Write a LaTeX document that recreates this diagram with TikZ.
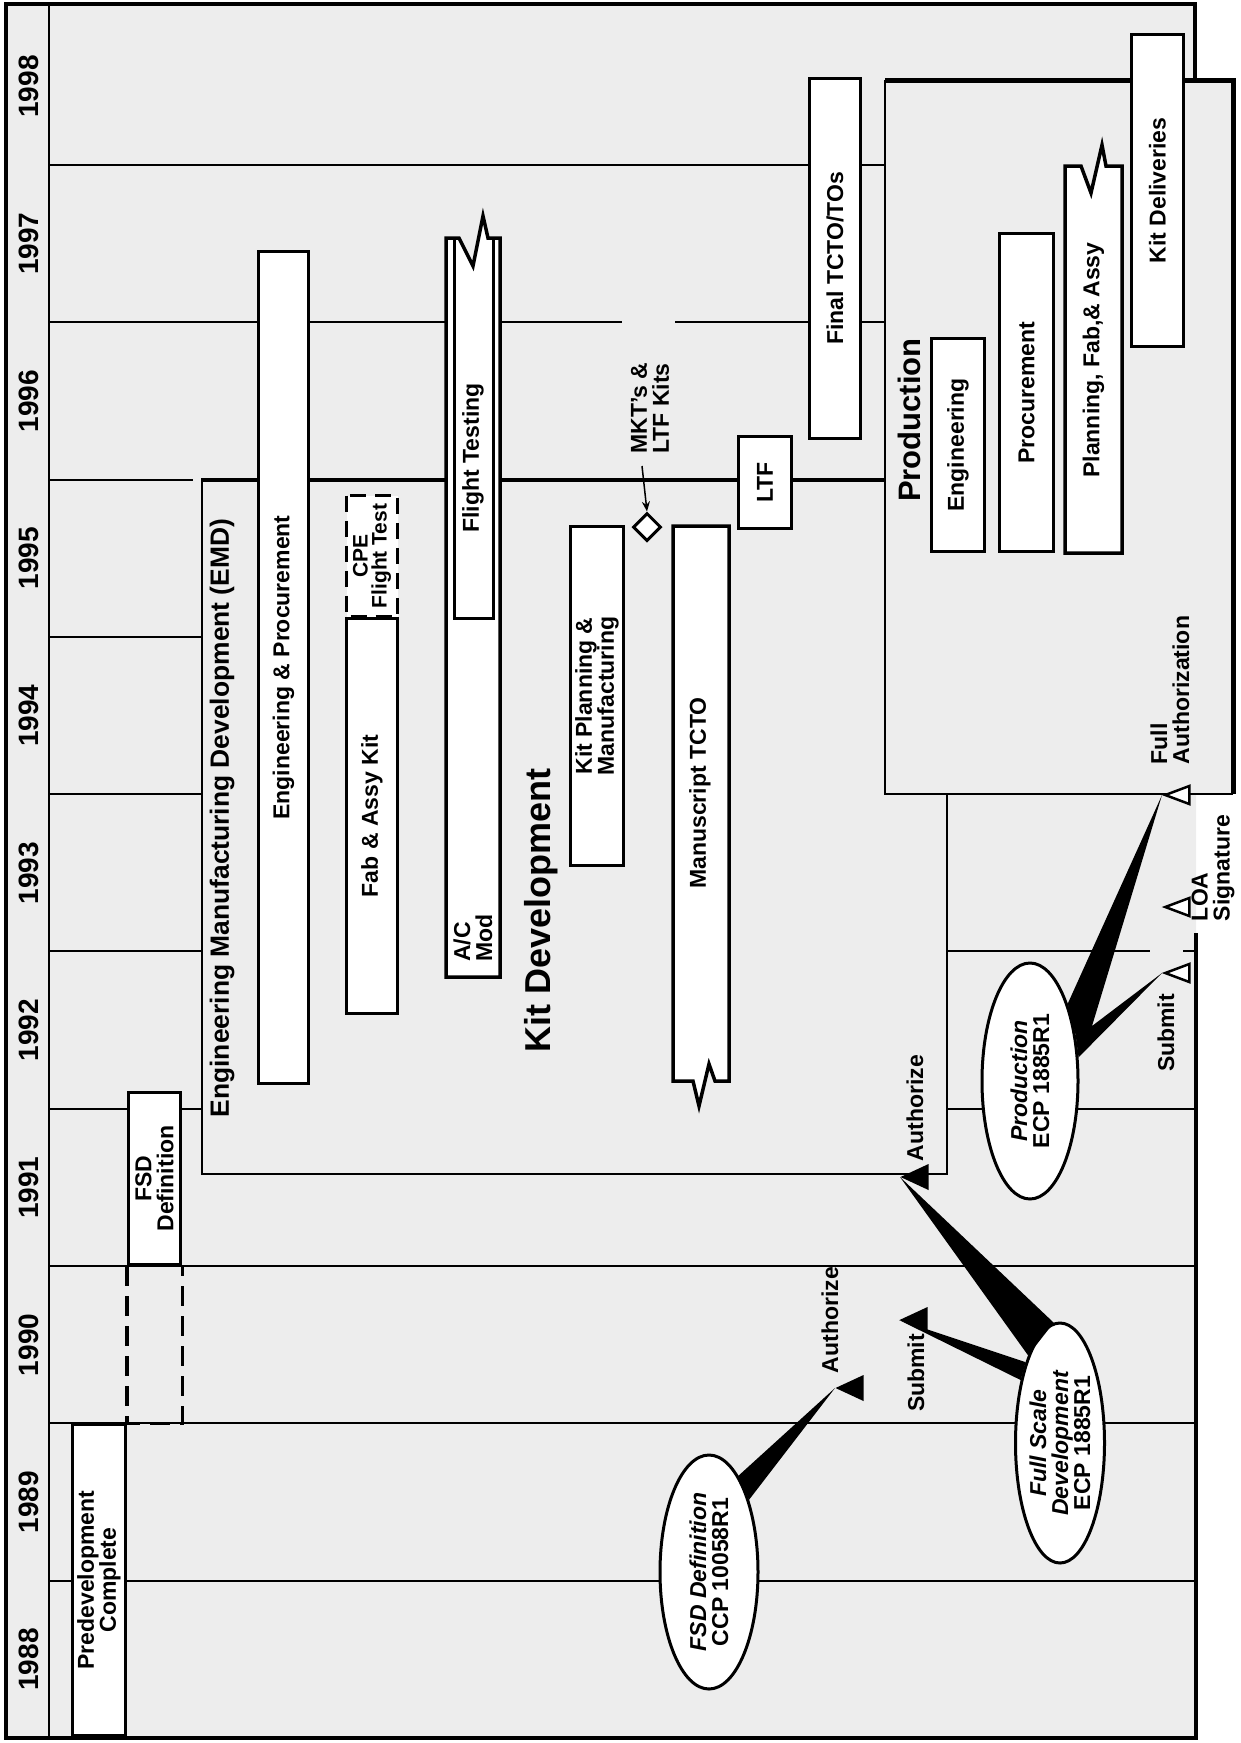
\documentclass[tikz,border=0pt]{standalone}
\usepackage{fontspec}
\setmainfont{Liberation Sans}
\usetikzlibrary{arrows.meta,shapes.geometric,calc}

\newcommand{\lblfont}{\fontsize{23}{22}\selectfont\bfseries}
\newcommand{\cpefont}{\fontsize{21}{19}\selectfont\bfseries}
\newcommand{\yearfont}{\fontsize{28}{28}\selectfont\bfseries}
\newcommand{\emdfont}{\fontsize{26.4}{26}\selectfont\bfseries}
\newcommand{\kitfont}{\fontsize{36}{36}\selectfont\bfseries}
\newcommand{\prodfont}{\fontsize{31}{31}\selectfont\bfseries}

\begin{document}
\begin{tikzpicture}[x=1pt, y=-1pt,
  taskbar/.style={draw, fill=white, line width=3.5pt, rotate=90, inner sep=0pt, align=center, font=\lblfont},
  dashbar/.style={taskbar, dash pattern=on 16pt off 9pt, font=\cpefont},
  taskline/.style={draw, fill=white, line width=3.5pt},
  txt/.style={rotate=90, inner sep=0pt, align=center, font=\lblfont},
  yeartxt/.style={txt, font=\yearfont},
  ecp/.style={ellipse, draw, fill=white, line width=3pt, rotate=90, inner sep=0pt, align=center, font=\lblfont},
  milestone/.style={isosceles triangle, isosceles triangle stretches, rotate=180, minimum width=26pt, minimum height=28pt, inner sep=0pt, fill=black},
  openmilestone/.style={milestone, fill=white, draw, line width=2.5pt, minimum width=18pt, minimum height=24pt},
  yearline/.style={line width=1.5pt},
  chartframe/.style={line width=4pt},
  pointer/.style={fill=black}
]
\useasboundingbox (0,0) rectangle (1240,1743);
\fill[black!7] (6,4) -- (1195,4) -- (1195,80) -- (1233,80) -- (1233,794) -- (1196,794) -- (1196,1738) -- (6,1738) -- cycle;

% year grid
\draw[yearline] (49,165) -- (885,165);
\draw[yearline] (49,322) -- (622,322) (675,322) -- (885,322);
\draw[yearline] (49,480) -- (193,480);
\foreach \yy in {637,794,951} \draw[yearline] (49,\yy) -- (202,\yy);
\draw[yearline] (947,951) -- (1150,951) (1183,951) -- (1196,951);
\draw[yearline] (49,1109) -- (202,1109) (947,1109) -- (1196,1109);
\foreach \yy in {1266,1423,1581} \draw[yearline] (49,\yy) -- (1196,\yy);
\foreach \yr [count=\i from 0] in {1998,1997,...,1988}
  \node[yeartxt] (y\yr) at (29,{86.5+157.3*\i}) {\yr};

% frame
\draw[chartframe] (1195,80) -- (1195,4) -- (6,4) -- (6,1738) -- (1196,1738) -- (1196,933);
\draw[line width=2pt] (49,4) -- (49,1738);

% EMD and production outlines
\draw[line width=3.5pt] (202,480) -- (885,480);
\draw[line width=2.5pt] (202,478) -- (202,1174) -- (947,1174) -- (947,794);
\draw[line width=2.5pt] (1233,794) -- (885,794) -- (885,80);
\draw[line width=5pt] (885,80) -- (1233,80) -- (1233,794);

% early phases
\node[taskbar, minimum width=312pt, minimum height=53pt] (predev) at (99,1580) {Predevelopment\\Complete};
\node[taskbar, minimum width=172pt, minimum height=52pt] (fsddef) at (154.5,1178.5) {FSD\\Definition};
\draw[line width=3.5pt, dash pattern=on 20pt off 10pt] (fsddef.north west) -- ++(0,157) -| (fsddef.south west);

% EMD
\node[txt, font=\emdfont] (emd) at (222,818) {Engineering Manufacturing Development (EMD)};
\node[taskbar, minimum width=832pt, minimum height=50pt] (engproc) at (283.5,667.5) {Engineering \& Procurement};
\node[taskbar, minimum width=395pt, minimum height=51pt] (fabkit) at (372,816) {Fab \& Assy Kit};
\node[dashbar, minimum width=121pt, minimum height=51pt] (cpe) at (372,556) {CPE\\Flight Test};
\path[taskline] (446,977) -- (446,238) -- (459,238) -- (473,266) -- (483,216) -- (488,238) -- (500,238) -- (500,977) -- cycle;
\draw[line width=3pt] (454,238) -- (454,618) -- (493,618) -- (493,238);
\node[txt] (flttest) at (473,458) {Flight Testing};
\node[txt, align=left] (acmod) at (473,938) {A/C\\Mod};

% kit development
\node[txt, font=\kitfont] (kitdev) at (541,910) {Kit Development};
\node[taskbar, minimum width=339pt, minimum height=53pt] (kitplan) at (597,696) {Kit Planning \&\\Manufacturing};
\node[diamond, draw, fill=white, line width=3pt, minimum size=28pt, inner sep=0pt] (mktdia) at (647,527) {};
\node[txt, align=left] (mktkits) at (650,408) {MKT's \&\\LTF Kits};
\coordinate (mkttail) at (642,466);
\draw[-{Stealth[length=10pt,width=8pt]}, line width=1.5pt] (mkttail) -- (mktdia.north);
\path[taskline] (673,526) -- (729,526) -- (729,1081) -- (715,1081) -- (709,1064) -- (699,1106) -- (693,1081) -- (673,1081) -- cycle;
\node[txt] (manus) at (700,793) {Manuscript TCTO};
\node[taskbar, minimum width=92pt, minimum height=53pt] (ltf) at (765,482.5) {LTF};
\node[taskbar, minimum width=360pt, minimum height=51pt] (finaltcto) at (835,258.5) {Final TCTO/TOs};

% production
\node[txt, font=\prodfont] (prodhead) at (909,420) {Production};
\node[taskbar, minimum width=213pt, minimum height=53pt] (proding) at (958,445) {Engineering};
\node[taskbar, minimum width=318pt, minimum height=54pt] (prodproc) at (1026.5,392.5) {Procurement};
\path[taskline] (1065,553) -- (1065,166) -- (1081,166) -- (1091,193) -- (1102,145) -- (1106,166) -- (1122,166) -- (1122,553) -- cycle;
\node[txt] (planfab) at (1093.5,360) {Planning, Fab,\& Assy};
\node[taskbar, minimum width=312pt, minimum height=52pt] (kitdel) at (1157.5,190.5) {Kit Deliveries};

% change proposals
\node[ecp, minimum width=234pt, minimum height=98pt] (fsdecp) at (709,1572) {\textit{FSD Definition}\\CCP 10058R1};
\node[ecp, minimum width=240pt, minimum height=89pt] (fsdev) at (1060,1443) {\textit{Full Scale}\\\textit{Development}\\ECP 1885R1};
\node[ecp, minimum width=236pt, minimum height=96pt] (prodecp) at (1030,1081) {\textit{Production}\\ECP 1885R1};

% milestones
\node[milestone, anchor=apex] (auth1) at (835,1388) {};
\node[milestone, anchor=apex] (submit1) at (899,1320) {};
\node[milestone, anchor=apex] (auth2) at (900,1177) {};
\node[openmilestone, anchor=apex] (fullauth) at (1162,795) {};
\node[openmilestone, anchor=apex] (loasig) at (1162,907) {};
\node[openmilestone, anchor=apex] (submit2) at (1162,973) {};
\node[txt] (authlbl1) at (830,1320) {Authorize};
\node[txt] (submitlbl1) at (916,1373) {Submit};
\node[txt] (authlbl2) at (915,1108) {Authorize};
\node[txt] (submitlbl2) at (1166,1033) {Submit};
\node[txt, align=left] (fullauthlbl) at (1170,690) {Full\\Authorization};
\node[txt, align=left] (loalbl) at (1213,868) {LOA\\Signature};

% pointers
\fill[pointer] (fsdecp.-17) -- (auth1.apex) -- (fsdecp.-29) -- cycle;
\fill[pointer] (fsdev.3) -- (auth2.apex) -- (fsdev.20) -- cycle;
\fill[pointer] (fsdev.23) -- (submit1.apex) -- (fsdev.32) -- cycle;
\coordinate (prodnotch) at (1092,1026);
\fill[pointer] (prodecp.-26) -- (fullauth.apex) -- (prodnotch) -- (submit2.apex) -- (prodecp.-64) -- (prodecp.-45) -- cycle;
\end{tikzpicture}
\end{document}
